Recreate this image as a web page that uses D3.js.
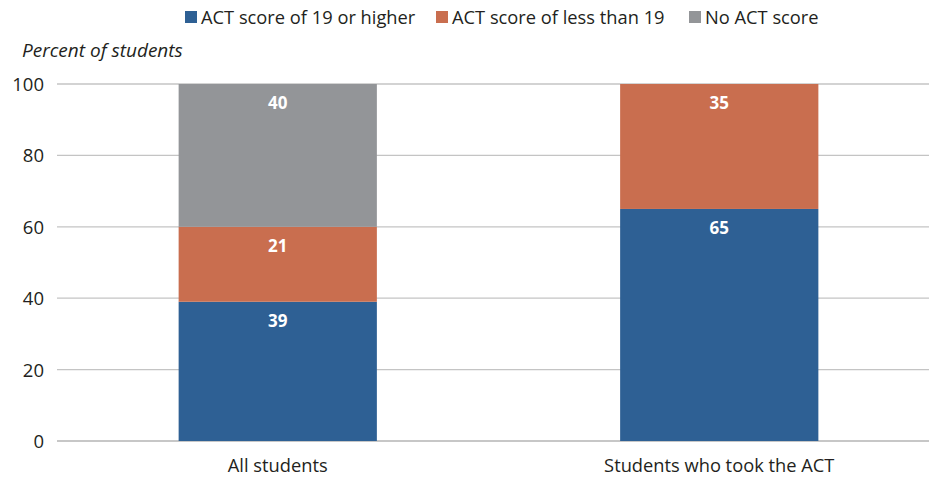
<!DOCTYPE html>
<html><head><meta charset="utf-8">
<script src="https://cdn.jsdelivr.net/npm/d3@7"></script>
<style>body{margin:0;background:#fff}svg{display:block;font-family:"Open Sans",sans-serif}</style>
</head><body><svg id="c" width="929" height="478"></svg>
<script>
const categories = ["All students", "Students who took the ACT"];
const seriesNames = ["ACT score of 19 or higher", "ACT score of less than 19", "No ACT score"];
const high = [39, 65];
const low = [21, 35];
const none = [40, 0];
const yTicks = [0, 20, 40, 60, 80, 100];
const colors = ["#2E6094", "#C96E4F", "#939598"];

const svg = d3.select("#c");
const y = d3.scaleLinear().domain([0, 100]).range([441, 84]);
const x = d3.scaleBand().domain(categories).range([57, 940]);
const barW = x.bandwidth() * 0.449;

// gridlines
svg.append("g").selectAll("line").data(yTicks).join("line")
  .attr("x1", 57).attr("x2", 929)
  .attr("y1", d => y(d)).attr("y2", d => y(d))
  .attr("stroke", d => d === 0 ? "#b5b5b5" : "#c4c4c4").attr("stroke-width", d => d===0?1.6:1.3);

// y axis labels
const yAxis = d3.axisLeft(y).tickValues(yTicks).tickSize(0).tickPadding(0);
const ga = svg.append("g").attr("transform", "translate(44,0)").call(yAxis);
ga.select(".domain").remove();
ga.selectAll("text").attr("font-size", 18.5).attr("fill", "#231f20").attr("font-family", "Open Sans, sans-serif").attr("dy", "0.35em");

const rows = categories.map((c, i) => ({cat: c, vals: [high[i], low[i], none[i]]}));
const stack = d3.stack().keys([0, 1, 2]).value((d, k) => d.vals[k]);
const stacked = stack(rows);

stacked.forEach((layer, k) => {
  const g = svg.append("g");
  layer.forEach((seg, i) => {
    const v = seg[1] - seg[0];
    if (v <= 0) return;
    const cx = x(rows[i].cat) + x.bandwidth() / 2;
    g.append("rect").attr("x", cx - barW / 2).attr("width", barW)
      .attr("y", y(seg[1])).attr("height", y(seg[0]) - y(seg[1]))
      .attr("fill", colors[k]);
    g.append("text").attr("x", cx).attr("y", y(seg[1]) + 25)
      .attr("text-anchor", "middle").attr("fill", "#fff")
      .attr("font-weight", "bold").attr("font-size", 17).text(v);
  });
});

// category labels
svg.append("g").selectAll("text").data(categories).join("text")
  .attr("x", d => x(d) + x.bandwidth() / 2).attr("y", 472)
  .attr("text-anchor", "middle").attr("font-size", 18.3).attr("fill", "#231f20").text(d => d);

// y title
svg.append("text").attr("x", 22).attr("y", 57).attr("font-style", "italic")
  .attr("font-size", 19).attr("fill", "#231f20").text("Percent of students");

// legend
const legX = [185, 436, 689];
const lg = svg.append("g");
seriesNames.forEach((s, i) => {
  lg.append("rect").attr("x", legX[i]).attr("y", 11).attr("width", 12).attr("height", 12).attr("fill", colors[i]);
  lg.append("text").attr("x", legX[i] + 16).attr("y", 24).attr("font-size", 18.3).attr("fill", "#231f20").text(s);
});
</script></body></html>
